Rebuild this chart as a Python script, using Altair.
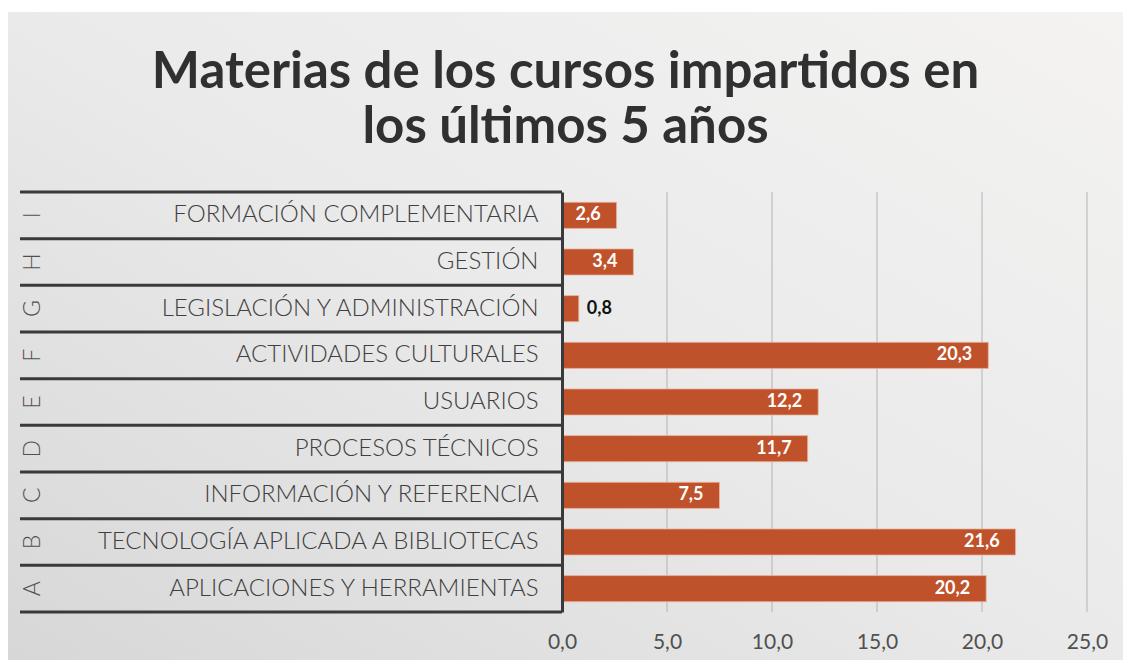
import altair as alt
import pandas as pd

categories = [
    "FORMACIÓN COMPLEMENTARIA",
    "GESTIÓN",
    "LEGISLACIÓN Y ADMINISTRACIÓN",
    "ACTIVIDADES CULTURALES",
    "USUARIOS",
    "PROCESOS TÉCNICOS",
    "INFORMACIÓN Y REFERENCIA",
    "TECNOLOGÍA APLICADA A BIBLIOTECAS",
    "APLICACIONES Y HERRAMIENTAS",
]
letters = ["I", "H", "G", "F", "E", "D", "C", "B", "A"]
values = [2.6, 3.4, 0.8, 20.3, 12.2, 11.7, 7.5, 21.6, 20.2]
tick_values = [0, 5, 10, 15, 20, 25]
title_lines = ["Materias de los cursos impartidos en", "los últimos 5 años"]

df = pd.DataFrame({
    "cat": categories,
    "letter": letters,
    "v": values,
    "label": [f"{v:.1f}".replace(".", ",") for v in values],
})
df_last = df.tail(1)
df_ticks = pd.DataFrame({"t": tick_values})

W, H = 525, 420
PAD = {"left": 554, "top": 184, "right": 36, "bottom": 48}
BG_TOP = -180  # slide background starts a few px below the page margin

y_scale = alt.Scale(domain=categories, paddingInner=0, paddingOuter=0)
x_scale = alt.Scale(domain=[0, 25], nice=False, zero=True)

# slide background (soft diagonal gradient)
bg = alt.Chart(pd.DataFrame({"a": [0]})).mark_rect(
    color=alt.LinearGradient(
        gradient="linear", x1=1, y1=0, x2=0, y2=1,
        stops=[alt.GradientStop(offset=0, color="#f4f3f2"),
               alt.GradientStop(offset=0.5, color="#eaeaea"),
               alt.GradientStop(offset=1, color="#d7d7d7")],
    )
).encode(
    x=alt.value(-PAD["left"]), x2=alt.value(W + PAD["right"]),
    y=alt.value(BG_TOP), y2=alt.value(H + PAD["bottom"]),
)

base = alt.Chart(df)

grid = alt.Chart(df_ticks).mark_rule(color="#b3b3b3", strokeWidth=1).encode(
    x=alt.X("t:Q", scale=x_scale),
    y=alt.value(0), y2=alt.value(H),
)

bars = base.mark_bar(
    color="#BF522A", height={"band": 0.56}, stroke="#e9b7a2", strokeWidth=0.8
).encode(
    x=alt.X("v:Q", scale=x_scale,
            axis=alt.Axis(values=tick_values, title=None, grid=False, domain=False,
                          ticks=False, labelFlush=False, zindex=1,
                          labelExpr="replace(format(datum.value, '.1f'), '.', ',')",
                          labelFont="Lato", labelFontWeight="normal", labelFontSize=21,
                          labelColor="#505050", labelPadding=19)),
    y=alt.Y("cat:N", sort=categories, scale=y_scale,
            axis=alt.Axis(title=None, ticks=False, grid=False, domain=True,
                          domainColor="#3a3a3a", domainWidth=3, zindex=1,
                          labelFont="Lato", labelFontWeight=300,
                          labelFontSize=24, labelColor="#404040",
                          labelPadding=24, labelLimit=600)),
)

rules_top = base.mark_rule(color="#3a3a3a", strokeWidth=3).encode(
    y=alt.Y("cat:N", sort=categories, bandPosition=0),
    x=alt.value(-542), x2=alt.value(0),
)
rule_bottom = alt.Chart(df_last).mark_rule(color="#3a3a3a", strokeWidth=3).encode(
    y=alt.Y("cat:N", sort=categories, bandPosition=1),
    x=alt.value(-542), x2=alt.value(0),
)

letter_text = base.mark_text(
    angle=270, font="Lato", fontSize=23, fontWeight=300, color="#505050"
).encode(
    y=alt.Y("cat:N", sort=categories),
    x=alt.value(-529),
    text="letter:N",
)

inside = base.transform_filter("datum.v >= 1").mark_text(
    align="right", dx=-16, font="Lato", fontWeight="bold", fontSize=18, color="white"
).encode(
    x="v:Q", y=alt.Y("cat:N", sort=categories), text="label:N",
)
outside = base.transform_filter("datum.v < 1").mark_text(
    align="left", dx=8, font="Lato", fontWeight="bold", fontSize=18, color="#111111"
).encode(
    x="v:Q", y=alt.Y("cat:N", sort=categories), text="label:N",
)

chart = alt.layer(bg, grid, bars, rules_top, rule_bottom, letter_text, inside, outside).properties(
    width=W, height=H,
    autosize=alt.AutoSizeParams(type="none"),
    padding=PAD,
    background="#ffffff",
    title=alt.TitleParams(
        text=title_lines, font="Lato", fontSize=51, fontWeight="bold",
        color="#303030", anchor="middle", frame="group", dx=-259,
        lineHeight=55, offset=38 + BG_TOP,
    ),
).configure_view(stroke=None)

chart.save("out.html", embed_options={"renderer": "svg", "actions": False})
